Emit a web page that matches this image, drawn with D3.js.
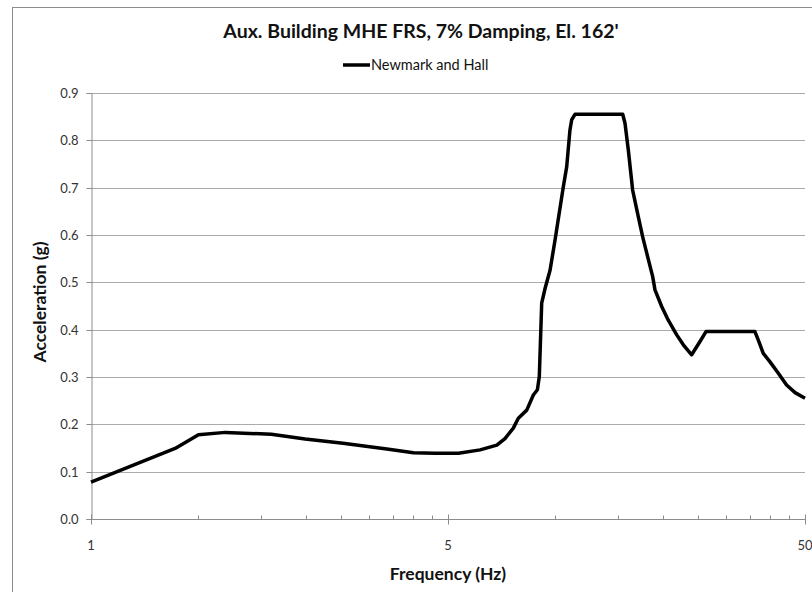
<!DOCTYPE html>
<html><head><meta charset="utf-8">
<script src="https://cdn.jsdelivr.net/npm/d3@7/dist/d3.min.js"></script>
<style>body{margin:0;background:#fff}svg{display:block}</style>
</head><body>
<script>
const title = "Aux. Building MHE FRS, 7% Damping, El. 162'";
const seriesName = "Newmark and Hall";
const freq = [0.5,0.86,1.0,1.19,1.6,1.99,2.54,3.37,4.0,4.6,5.35,6.15,6.85,7.22,7.62,7.87,8.31,8.67,8.9,9.01,9.15,9.35,9.66,9.97,10.52,10.75,10.98,11.1,11.34,15.43,15.66,16.0,16.45,17.06,17.55,17.93,18.32,18.72,19.0,19.84,20.7,21.86,22.81,24.07,25.4,26.4,36.2,37.0,38.2,39.9,42.1,44.4,46.9,50];
const accel = [0.078,0.149,0.178,0.183,0.179,0.169,0.160,0.148,0.140,0.139,0.139,0.146,0.156,0.170,0.192,0.213,0.230,0.262,0.273,0.301,0.456,0.487,0.526,0.589,0.702,0.744,0.822,0.843,0.855,0.855,0.836,0.779,0.695,0.639,0.596,0.568,0.540,0.512,0.484,0.449,0.420,0.389,0.368,0.347,0.375,0.396,0.396,0.378,0.350,0.332,0.308,0.283,0.267,0.255];
const xTickValues = [0.5,5,50];
const xTickLabels = ["1","5","50"];
const xMinorTicks = [1,1.5,2,2.5,3,3.5,4,4.5,10,15,20,25,30,35,40,45];
const yTicks = [0,0.1,0.2,0.3,0.4,0.5,0.6,0.7,0.8,0.9];

const W=812,H=592;
const svg=d3.select("body").append("svg").attr("width",W).attr("height",H);
const font="Lato, 'Open Sans', sans-serif";
svg.append("rect").attr("x",12.5).attr("y",7.5).attr("width",900).attr("height",700)
  .attr("fill","#fff").attr("stroke","#8c8c8c").attr("stroke-width",1);

const L=91,R=805,T=93,B=519;
const x=d3.scaleLog().domain([0.5,50]).range([L,R]);
const y=d3.scaleLinear().domain([0,0.9]).range([B,T]);

// gridlines
svg.append("g").selectAll("line").data(yTicks.slice(1)).join("line")
  .attr("x1",L).attr("x2",R).attr("y1",d=>Math.round(y(d))+0.5).attr("y2",d=>Math.round(y(d))+0.5)
  .attr("stroke","#ababab").attr("stroke-width",1);

// y axis
const gy=svg.append("g").attr("transform",`translate(${L+0.5},0)`)
  .call(d3.axisLeft(y).tickValues(yTicks).tickFormat(d3.format(".1f")).tickSize(5).tickPadding(8));
gy.select(".domain").attr("stroke","#8c8c8c");
gy.selectAll(".tick line").attr("stroke","#8c8c8c");
gy.selectAll(".tick text").attr("font-family",font).attr("font-size",13).attr("fill","#333");
gy.selectAll(".tick").attr("transform",d=>`translate(0,${Math.round(y(d))+0.5})`);

// x axis
const gx=svg.append("g").attr("transform",`translate(0,${B+0.5})`);
gx.append("line").attr("x1",L).attr("x2",R).attr("stroke","#8c8c8c");
gx.selectAll(".minor").data(xMinorTicks).join("line").attr("class","minor")
  .attr("x1",d=>Math.round(x(d))+0.5).attr("x2",d=>Math.round(x(d))+0.5).attr("y1",0).attr("y2",-4)
  .attr("stroke","#8c8c8c");
gx.selectAll(".major").data(xTickValues).join("line").attr("class","major")
  .attr("x1",d=>Math.round(x(d))+0.5).attr("x2",d=>Math.round(x(d))+0.5).attr("y1",-5).attr("y2",5)
  .attr("stroke","#8c8c8c");
gx.selectAll("text").data(xTickValues).join("text")
  .attr("x",d=>x(d)).attr("y",30).attr("text-anchor","middle")
  .attr("font-family",font).attr("font-size",13).attr("fill","#333")
  .text((d,i)=>xTickLabels[i]);

// line
svg.append("path").datum(freq.map((f,i)=>[f,accel[i]]))
  .attr("d",d3.line().x(d=>x(d[0])).y(d=>y(d[1])))
  .attr("fill","none").attr("stroke","#000").attr("stroke-width",3.5).attr("stroke-linejoin","round");

// title
svg.append("text").attr("x",421).attr("y",38).attr("text-anchor","middle")
  .attr("font-family",font).attr("font-weight","bold").attr("font-size",19.5).attr("fill","#111").text(title);
// legend
svg.append("line").attr("x1",343).attr("x2",370).attr("y1",65).attr("y2",65).attr("stroke","#000").attr("stroke-width",3.5);
svg.append("text").attr("x",371).attr("y",70).attr("font-family",font).attr("font-size",14.5).attr("fill","#111").text(seriesName);
// axis titles
svg.append("text").attr("transform","translate(46,302) rotate(-90)").attr("text-anchor","middle")
  .attr("font-family",font).attr("font-weight","bold").attr("font-size",17.5).attr("fill","#111").text("Acceleration (g)");
svg.append("text").attr("x",448).attr("y",580).attr("text-anchor","middle")
  .attr("font-family",font).attr("font-weight","bold").attr("font-size",17.5).attr("fill","#111").text("Frequency (Hz)");
</script>
</body></html>
